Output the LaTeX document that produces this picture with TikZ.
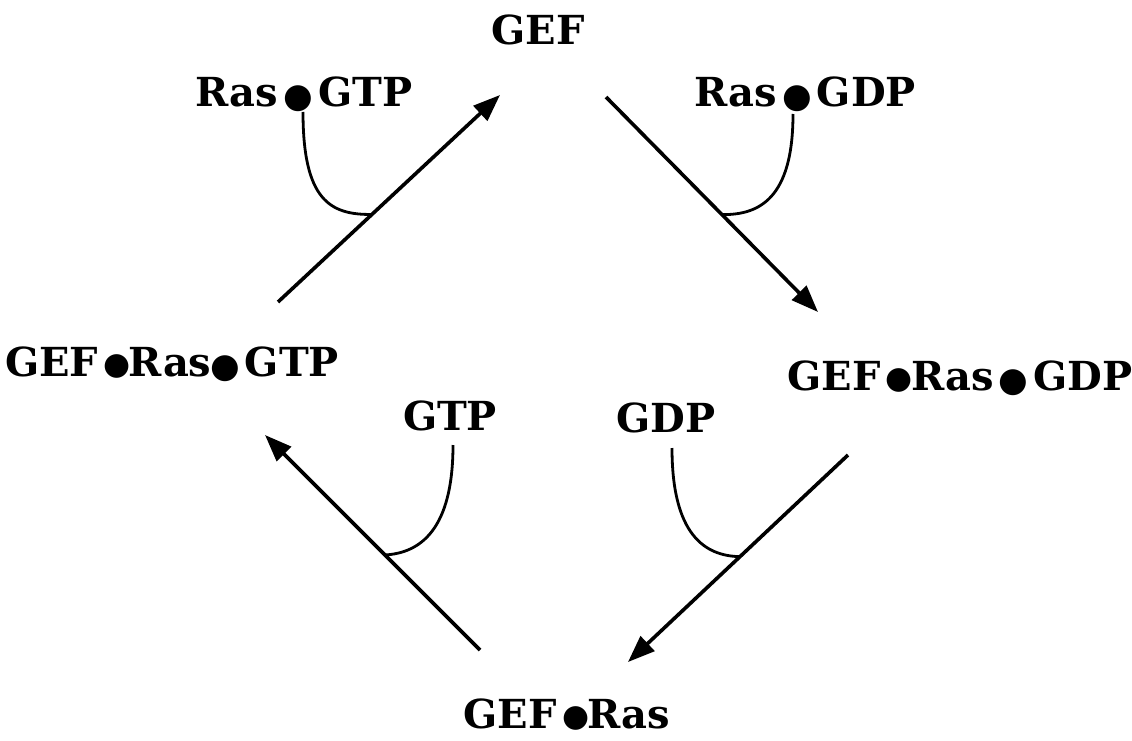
\documentclass[tikz,border=0pt]{standalone}
\usepackage{fontspec}
\setmainfont{DejaVu Serif}
\newfontfamily\symfnt{DejaVu Sans}
\usetikzlibrary{arrows.meta,calc}
\newcommand\bul{{\symfnt\fontsize{34}{34}\selectfont\kern-1.5pt\raisebox{-1pt}{●}\kern-1.5pt}}
\newcommand\bulhi{{\symfnt\fontsize{31}{31}\selectfont\kern-1.5pt\raisebox{2pt}{●}\kern-1.5pt}}
\tikzset{
  lbl/.style={inner sep=0pt, anchor=base, font=\bfseries\fontsize{40}{44}\selectfont},
  rxn/.style={line width=3.6pt, -{Triangle[length=27pt,width=20pt]}},
  hook/.style={line width=2.8pt}
}
\begin{document}
\begin{tikzpicture}[x=1pt,y=-1pt]
\useasboundingbox (0,0) rectangle (1132,741);
% species labels
\node[lbl] (gef) at (538,45) {GEF};
\node[lbl] (rasgtp) at (304,107) {Ras\,\bul\,GTP};
\node[lbl] (rasgdp) at (805,107) {Ras\,\bul\,GDP};
\node[lbl] (gefrasgtp) at (172,376) {GEF\,\bulhi Ras\bul\,GTP};
\node[lbl] (gefrasgdp) at (960,390) {GEF\,\bulhi Ras\,\bul\,GDP};
\node[lbl] (gtp) at (450,430) {GTP};
\node[lbl] (gdp) at (666,432) {GDP};
\node[lbl] (gefras) at (567,728) {GEF\,\bulhi Ras};
% arrow end points
\coordinate (a1s) at (278,302); \coordinate (a1e) at (500,95);
\coordinate (a2s) at (606,97);  \coordinate (a2e) at (818,312);
\coordinate (a3s) at (848,455); \coordinate (a3e) at (628,662);
\coordinate (a4s) at (480,650); \coordinate (a4e) at (265,435);
% arrows
\draw[rxn] (a1s) -- (a1e);
\draw[rxn] (a2s) -- (a2e);
\draw[rxn] (a3s) -- (a3e);
\draw[rxn] (a4s) -- (a4e);
% joining points on arrows
\coordinate (j1) at ($(a1s)!0.423!(a1e)$);
\coordinate (j2) at ($(a2s)!0.547!(a2e)$);
\coordinate (j3) at ($(a3s)!0.491!(a3e)$);
\coordinate (j4) at ($(a4s)!0.442!(a4e)$);
% hooks
\coordinate (h1) at (303,112);
\coordinate (h2) at (793,114);
\coordinate (h3) at (672,448);
\coordinate (h4) at (453,445);
\draw[hook] (h1) .. controls (303,200) and (330,215) .. (j1);
\draw[hook] (h2) .. controls (793,200) and (758,215) .. (j2);
\draw[hook] (h3) .. controls (672,535) and (705,556) .. (j3);
\draw[hook] (h4) .. controls (453,530) and (420,553) .. (j4);
\end{tikzpicture}
\end{document}
